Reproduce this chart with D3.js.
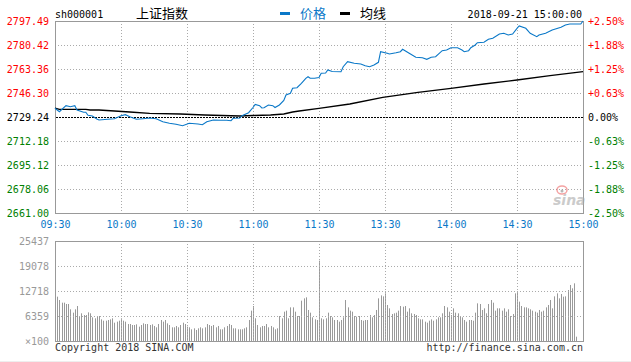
<!DOCTYPE html>
<html>
<head>
<meta charset="utf-8">
<script src="https://d3js.org/d3.v7.min.js"></script>
<style>
  body { margin: 0; background: #fff; }
  svg text { font-family: "DejaVu Sans Mono", monospace; font-size: 10px; }
</style>
</head>
<body>
<svg width="631" height="362"></svg>
<script>
// sh000001 intraday, 2018-09-21
const preClose = 2729.24
const priceTicks = [2661.00, 2678.06, 2695.12, 2712.18, 2729.24, 2746.30, 2763.36, 2780.42, 2797.49]
const pctLabels = ["-2.50%", "-1.88%", "-1.25%", "-0.63%", "0.00%", "+0.63%", "+1.25%", "+1.88%", "+2.50%"]
const timeLabels = ["09:30", "10:00", "10:30", "11:00", "11:30", "13:30", "14:00", "14:30", "15:00"]
const volTicks = [0, 6359, 12718, 19078, 25437]

// price line, minute offset from the open (0..240) -> price
const priceMin = [0, 2, 5, 7, 9, 10, 13, 14, 15, 17, 19, 20, 24, 27, 30, 32, 34, 37, 40, 43, 46, 49, 52, 55, 58,
  61, 65, 67, 69, 72, 75, 78, 80, 81, 84, 85, 88, 90, 91, 93, 94, 95, 97, 99, 100, 102, 104, 105, 107, 108,
  110, 112, 114, 115, 116, 118, 120, 121, 123, 124, 126, 130, 131, 133, 136, 139, 141, 143, 145, 147, 148,
  151, 152, 155, 157, 158, 161, 164, 167, 169, 171, 173, 176, 178, 180, 183, 185, 186, 188, 189, 191, 192,
  195, 197, 199, 202, 204, 206, 208, 210, 211, 214, 216, 219, 220, 223, 226, 230, 232, 234, 239, 240]
const priceVal = [2735.43, 2733.01, 2737.28, 2736.57, 2737.28, 2734.22, 2732.59, 2732.59, 2730.45, 2729.96,
  2727.82, 2727.11, 2727.61, 2728.04, 2730.17, 2730.88, 2729.46, 2727.61, 2728.04, 2728.53, 2728.04, 2725.90,
  2724.77, 2724.06, 2723.06, 2724.77, 2724.27, 2723.77, 2725.90, 2727.11, 2726.90, 2726.90, 2726.61, 2728.32,
  2728.53, 2730.17, 2732.30, 2736.00, 2738.13, 2737.28, 2735.64, 2735.85, 2737.78, 2737.28, 2736.00, 2737.78,
  2740.97, 2744.88, 2746.09, 2749.65, 2750.07, 2753.20, 2756.76, 2757.89, 2756.76, 2756.76, 2757.32, 2760.31,
  2760.50, 2762.66, 2761.59, 2761.45, 2765.00, 2768.56, 2767.42, 2766.92, 2765.71, 2765.00, 2766.21, 2768.13,
  2775.67, 2774.53, 2774.03, 2774.95, 2775.67, 2777.37, 2774.53, 2771.68, 2771.40, 2770.26, 2771.68, 2772.11,
  2776.38, 2776.87, 2778.51, 2778.51, 2776.87, 2775.67, 2776.38, 2778.51, 2780.43, 2782.06, 2782.35, 2784.48,
  2785.19, 2788.25, 2788.75, 2787.54, 2788.25, 2792.30, 2793.94, 2792.30, 2788.75, 2786.33, 2787.54, 2788.75,
  2791.09, 2793.01, 2794.65, 2795.36, 2795.36, 2797.49]

// average price line
const avgMin = [0, 2, 14, 16, 20, 27, 34, 43, 57, 68, 84, 90, 98, 104, 108, 111, 120, 134, 149, 165, 180, 195, 210, 225, 240]
const avgVal = [2735.50, 2734.72, 2734.72, 2734.22, 2734.22, 2733.51, 2732.80, 2731.87, 2731.38, 2730.67, 2729.96,
  2730.30, 2730.67, 2731.38, 2732.80, 2733.51, 2735.43, 2738.49, 2743.25, 2746.80, 2749.65, 2752.70, 2755.55,
  2758.60, 2761.45]

// volume per minute (x100), 241 minutes
const volume = [
  20100, 11280, 10430, 9750, 9750, 9410, 9410, 8060, 7210, 8060,
  8900, 6190, 7040, 6610, 6610, 7290, 7040, 6020, 5770, 6360,
  6360, 5510, 5170, 5170, 5340, 5510, 5770, 4660, 4920, 5170,
  5770, 5170, 4920, 4320, 4320, 4070, 4070, 4240, 3650, 4070,
  4490, 4320, 4320, 4070, 4240, 3820, 3480, 4320, 5340, 4920,
  5340, 4490, 4070, 3480, 3480, 3820, 3480, 4070, 4660, 4320,
  3650, 3480, 2970, 3220, 2800, 3220, 3480, 3220, 3480, 4320,
  4070, 3820, 4070, 3480, 3820, 2970, 2970, 3480, 3820, 4320,
  4070, 3220, 3220, 2970, 2970, 2970, 3220, 3480, 5340, 7720,
  8900, 5770, 4070, 3480, 3820, 3820, 4320, 3480, 3820, 3480,
  2970, 3220, 6360, 5770, 7460, 7720, 5770, 8560, 8560, 7460,
  6360, 6360, 10260, 10850, 11110, 7890, 7210, 6020, 5510, 5340,
  20430,
  5770, 5510, 5770, 7210, 6360, 6020, 5340, 5340, 4920, 5340,
  6020, 10430, 8560, 7720, 7460, 6360, 6190, 6360, 5340, 5170,
  5340, 5340, 6610, 6020, 6610, 7890, 10850, 11610, 11360, 12120,
  9160, 8310, 6870, 7040, 7210, 7720, 8900, 8730, 8900, 7460,
  8310, 7040, 6870, 6610, 5770, 5510, 5510, 4920, 4660, 5170,
  5510, 5170, 5510, 6020, 6020, 7040, 8900, 8560, 7460, 6610,
  8310, 7210, 7040, 6190, 6020, 5340, 4920, 5340, 5340, 5170,
  7210, 9580, 9410, 7890, 8310, 7040, 9410, 10430, 9750, 7720,
  8310, 8310, 7720, 8310, 7460, 8060, 6360, 6870, 12120, 12550,
  10010, 8900, 8560, 8560, 8310, 8060, 7720, 7460, 7210, 7890,
  7460, 7720, 8560, 9160, 10430, 8310, 11360, 12120, 10850, 11960,
  11280, 11360, 12970, 14250, 13400, 14670, 1100,
  0, 0, 0]

const svg = d3.select("svg")
const L = 55, R = 583, T = 21, B = 213
const VT = 241, VB = 341
const blue = "#0a78c8", red = "#ff0000", green = "#008000"

const x = d3.scaleLinear().domain([0, 240]).range([L, R])
const y = d3.scaleLinear().domain([priceTicks[0], priceTicks[8]]).range([B, T])
const yv = d3.scaleLinear().domain([0, volTicks[4]]).range([VB, VT])
const timePos = timeLabels.map((d, i) => i * 30)

function tickColor(v) {
  if (Math.abs(v - preClose) < 0.01) return "#000"
  return v > preClose ? red : green
}

// --- grids
function dotted(g) {
  g.select(".domain").remove()
  g.selectAll("line").attr("stroke", "#aaa").attr("stroke-dasharray", "1,2")
  g.selectAll("text").remove()
}
svg.append("g").attr("transform", `translate(${L},0)`)
  .call(d3.axisLeft(y).tickValues(priceTicks.filter(v => v != preClose).slice(1, -1)).tickSize(-(R - L)))
  .call(dotted)
svg.append("g").attr("transform", `translate(0,${T})`)
  .call(d3.axisBottom(x).tickValues(timePos.slice(1, -1)).tickSize(B - T))
  .call(dotted)

// volume bars
svg.append("g").selectAll("rect")
  .data(volume)
  .enter()
  .append("rect")
  .attr("x", (d, i) => Math.round(x(i)))
  .attr("y", d => yv(d))
  .attr("width", 1)
  .attr("height", d => VB - yv(d))
  .attr("fill", "#999")

svg.append("g").attr("transform", `translate(${L},0)`)
  .call(d3.axisLeft(yv).tickValues(volTicks.slice(1, -1)).tickSize(-(R - L)))
  .call(dotted)
svg.append("g").attr("transform", `translate(0,${VT})`)
  .call(d3.axisBottom(x).tickValues(timePos.slice(1, -1)).tickSize(VB - VT))
  .call(dotted)

// frames
svg.append("rect").attr("x", L + 0.5).attr("y", T + 0.5).attr("width", R - L).attr("height", B - T)
  .attr("fill", "none").attr("stroke", "#999")
svg.append("rect").attr("x", L + 0.5).attr("y", VT + 0.5).attr("width", R - L).attr("height", VB - VT)
  .attr("fill", "none").attr("stroke", "#999")
svg.append("line").attr("x1", 0).attr("x2", 631).attr("y1", 361.5).attr("y2", 361.5).attr("stroke", "#eee")

// sina watermark
const wm = svg.append("g").attr("opacity", 0.6)
wm.append("ellipse").attr("cx", 562).attr("cy", 190).attr("rx", 5).attr("ry", 4)
  .attr("fill", "none").attr("stroke", "#e66").attr("stroke-width", 1.5)
wm.append("circle").attr("cx", 562).attr("cy", 191).attr("r", 1.5).attr("fill", "#888")
wm.append("text").attr("x", 553).attr("y", 205).text("sina")
  .style("font-family", "DejaVu Sans").style("font-size", "14px").style("font-style", "italic")
  .style("font-weight", "bold").attr("fill", "#aaa")

// preclose line
svg.append("line").attr("x1", L + 1).attr("x2", R).attr("y1", Math.round(y(preClose)) + 0.5).attr("y2", Math.round(y(preClose)) + 0.5)
  .attr("stroke", "#000").attr("stroke-dasharray", "2,1")

// lines
const avgData = avgMin.map((m, i) => [m, avgVal[i]])
const priceData = priceMin.map((m, i) => [m, priceVal[i]])
const line = d3.line().x(d => x(d[0])).y(d => y(d[1]))
svg.append("path").datum(avgData).attr("d", line).attr("fill", "none").attr("stroke", "#000").attr("stroke-width", 1.3)
svg.append("path").datum(priceData).attr("d", line).attr("fill", "none").attr("stroke", blue).attr("stroke-width", 1.1)

// axes labels
svg.append("g").attr("transform", `translate(${L},0)`)
  .call(d3.axisLeft(y).tickValues(priceTicks).tickSize(0).tickPadding(6).tickFormat(d3.format(".2f")))
  .call(g => g.select(".domain").remove())
  .call(g => g.selectAll("text").attr("fill", d => tickColor(d)).style("font-family", "DejaVu Sans Mono").style("font-size", "10px"))

svg.append("g").attr("transform", `translate(${R},0)`)
  .call(d3.axisRight(y).tickValues(priceTicks).tickSize(0).tickPadding(5).tickFormat((d, i) => pctLabels[i]))
  .call(g => g.select(".domain").remove())
  .call(g => g.selectAll("text").attr("fill", d => tickColor(d)).style("font-family", "DejaVu Sans Mono").style("font-size", "10px"))

svg.append("g").attr("transform", `translate(0,${B})`)
  .call(d3.axisBottom(x).tickValues(timePos).tickSize(0).tickPadding(8).tickFormat((d, i) => timeLabels[i]))
  .call(g => g.select(".domain").remove())
  .call(g => g.selectAll("text").attr("fill", blue).style("font-family", "DejaVu Sans Mono").style("font-size", "10px"))

svg.append("g").attr("transform", `translate(${L},0)`)
  .call(d3.axisLeft(yv).tickValues(volTicks).tickSize(0).tickPadding(6).tickFormat(d => d === 0 ? "×100" : d))
  .call(g => g.select(".domain").remove())
  .call(g => g.selectAll("text").attr("fill", "#999").style("font-family", "DejaVu Sans Mono").style("font-size", "10px"))

// header
svg.append("text").attr("x", L).attr("y", 14).attr("dy", "0.35em").text("sh000001")
svg.append("text").attr("x", 136).attr("y", 13).attr("dy", "0.38em").text("上证指数")
  .style("font-family", "Noto Sans CJK SC").style("font-size", "13px")
svg.append("rect").attr("x", 280).attr("y", 12).attr("width", 10).attr("height", 3).attr("fill", blue)
svg.append("text").attr("x", 300).attr("y", 13).attr("dy", "0.38em").text("价格").attr("fill", blue)
  .style("font-family", "Noto Sans CJK SC").style("font-size", "13px")
svg.append("rect").attr("x", 340).attr("y", 12).attr("width", 10).attr("height", 3).attr("fill", "#000")
svg.append("text").attr("x", 360).attr("y", 13).attr("dy", "0.38em").text("均线")
  .style("font-family", "Noto Sans CJK SC").style("font-size", "13px")
svg.append("text").attr("x", 582).attr("y", 14).attr("dy", "0.35em").attr("text-anchor", "end").text("2018-09-21 15:00:00")

// footer
svg.append("text").attr("x", L).attr("y", 347).attr("dy", "0.35em").attr("fill", "#333").text("Copyright 2018 SINA.COM")
svg.append("text").attr("x", R).attr("y", 347).attr("dy", "0.35em").attr("text-anchor", "end").attr("fill", "#333").text("http://finance.sina.com.cn")
</script>
</body>
</html>
